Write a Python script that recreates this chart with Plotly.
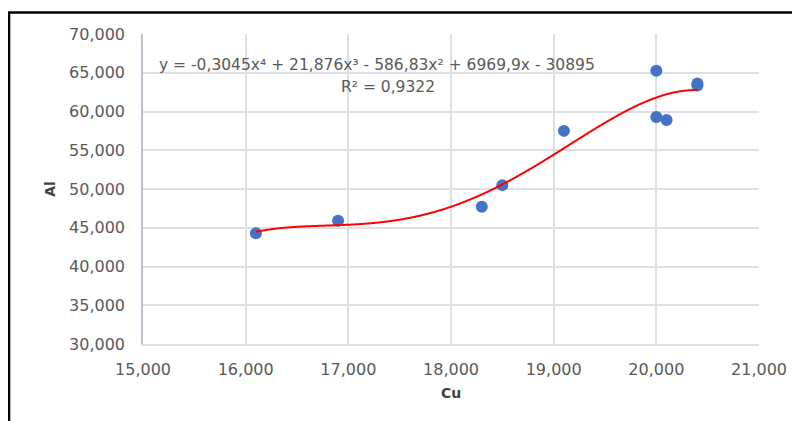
import numpy as np
import plotly.graph_objects as go

# Data (values in the chart's own units; comma is the decimal separator)
cu = [16.1, 16.9, 18.3, 18.5, 19.1, 20.0, 20.0, 20.1, 20.4, 20.4]
al = [44.3, 45.9, 47.7, 50.5, 57.5, 65.25, 59.3, 58.9, 63.6, 63.35]

x_ticks = [15, 16, 17, 18, 19, 20, 21]
y_ticks = [30, 35, 40, 45, 50, 55, 60, 65, 70]

equation_text = "y = -0,3045x⁴ + 21,876x³ - 586,83x² + 6969,9x - 30895"
r2_text = "R² = 0,9322"

# 4th order polynomial trendline fitted to the data
coef = np.polyfit(cu, al, 4)
xs = np.linspace(min(cu), max(cu), 600)
ys = np.polyval(coef, xs)

FONT = "DejaVu Sans"
TXT = "#595959"

fig = go.Figure()
fig.add_trace(go.Scatter(
    x=cu, y=al, mode="markers",
    marker=dict(color="#4472C4", size=12, line=dict(width=0)),
    showlegend=False, hoverinfo="x+y"))
fig.add_trace(go.Scatter(
    x=xs, y=ys, mode="lines",
    line=dict(color="#FF0000", width=2, shape="spline"),
    showlegend=False, hoverinfo="skip"))

# page body has an 8px margin, so the figure is 792x413 and left/top margins compensate
fig.update_layout(
    width=792, height=413,
    margin=dict(l=135, r=41, t=26, b=77),
    paper_bgcolor="white", plot_bgcolor="white",
    separators=",.",
    font=dict(family=FONT, size=16, color=TXT),
    xaxis=dict(
        range=[15, 21], tickvals=x_ticks, tickformat=".3f",
        showgrid=True, gridcolor="#DCE0E6", gridwidth=1.5,
        showline=True, linecolor="#DCE0E6", linewidth=1.5, mirror=False,
        zeroline=False, ticks="", ticklabelstandoff=10,
        tickfont=dict(family=FONT, size=16, color=TXT),
        title=dict(text="<b>Cu</b>", font=dict(family=FONT, size=14, color="#404040"), standoff=10),
    ),
    yaxis=dict(
        range=[30, 70], tickvals=y_ticks, tickformat=".3f",
        showgrid=True, gridcolor="#DCE0E6", gridwidth=1.5,
        showline=True, linecolor="#B8C0CC", linewidth=1.5,
        zeroline=False, ticks="", ticklabelstandoff=13,
        tickfont=dict(family=FONT, size=16, color=TXT),
        title=dict(text="<b>Al</b>", font=dict(family=FONT, size=14, color="#404040"), standoff=10),
    ),
    annotations=[
        dict(text=equation_text, xref="paper", yref="paper", x=0.0227, y=0.90,
             xanchor="left", yanchor="middle", showarrow=False,
             font=dict(family=FONT, size=15.5, color=TXT)),
        dict(text=r2_text, xref="paper", yref="paper", x=0.3977, y=0.829,
             xanchor="center", yanchor="middle", showarrow=False,
             font=dict(family=FONT, size=15.5, color=TXT)),
    ],
    shapes=[
        dict(type="line", xref="paper", yref="paper", x0=-0.2175, x1=-0.2175, y0=-0.35, y1=1.0694,
             line=dict(color="black", width=2.5)),
        dict(type="line", xref="paper", yref="paper", x0=-0.2195, x1=1.1, y0=1.0694, y1=1.0694,
             line=dict(color="black", width=2.5)),
    ],
)

fig.write_html("out.html")
